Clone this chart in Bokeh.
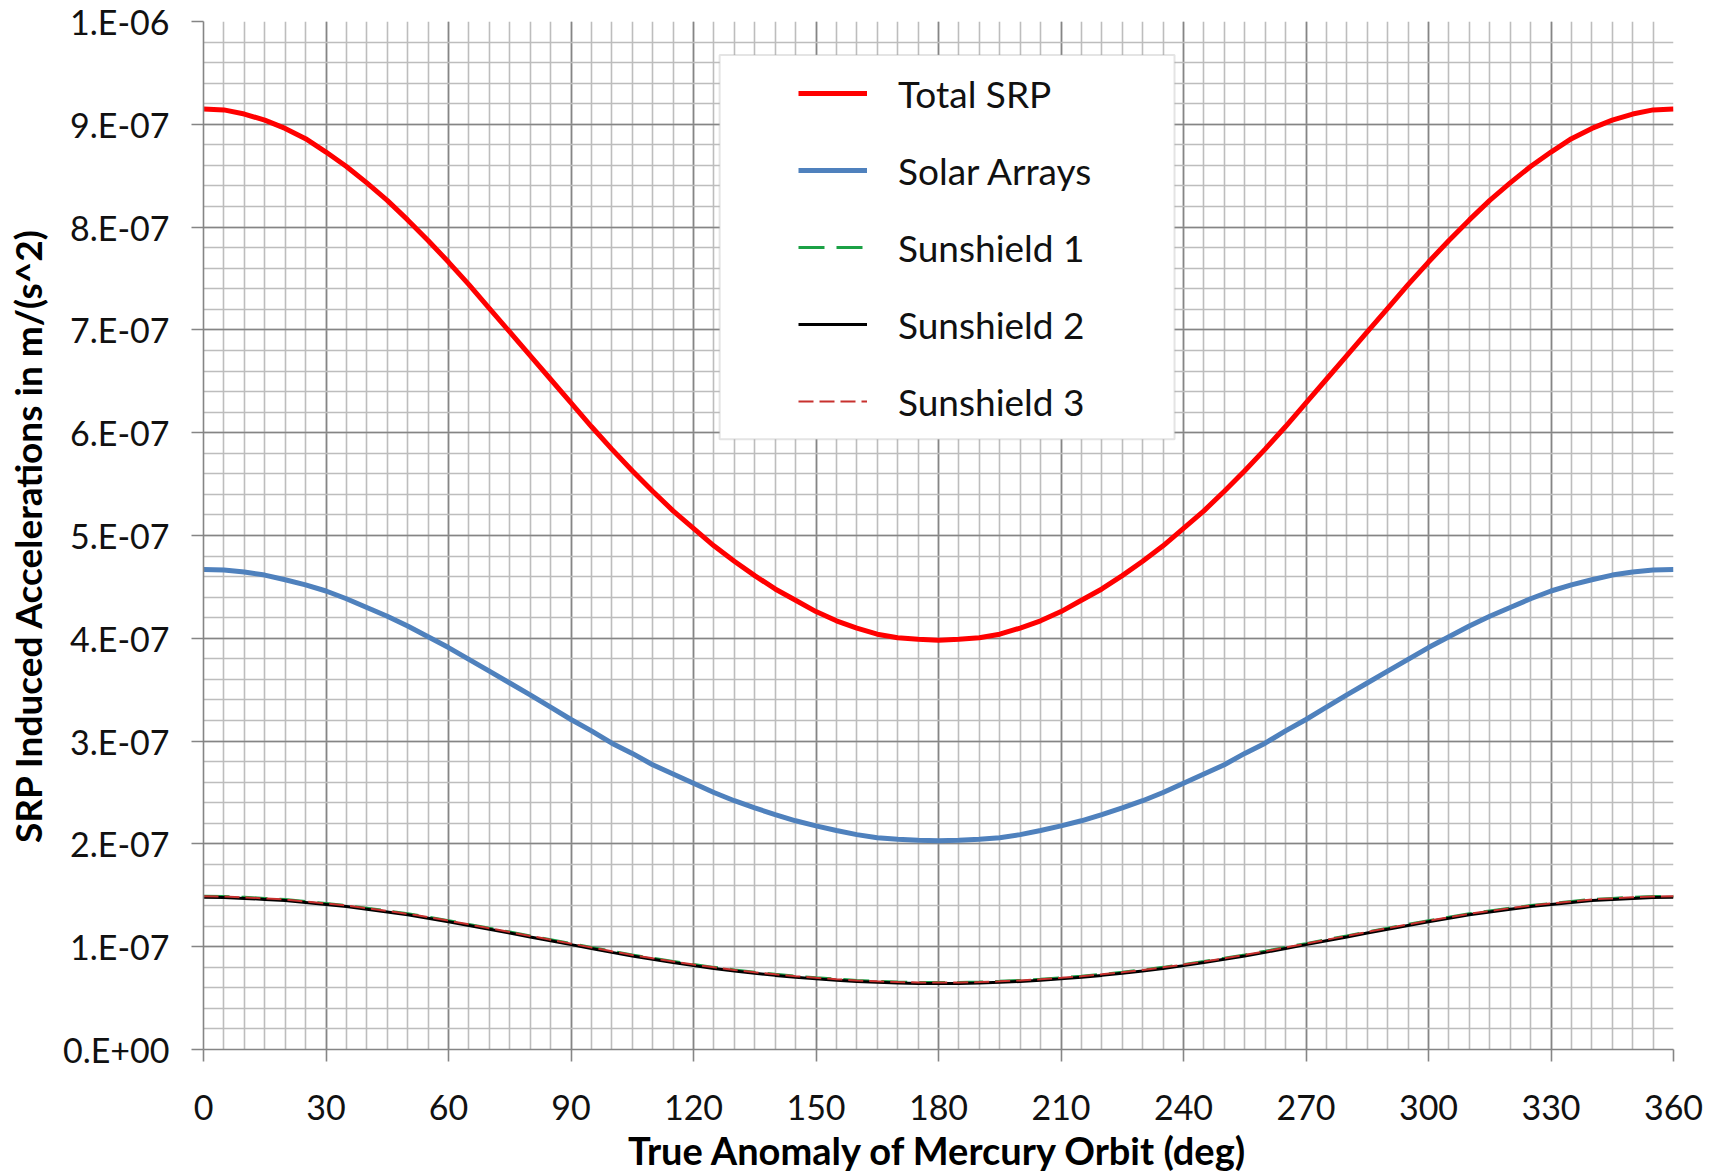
from bokeh.plotting import figure
from bokeh.models import FixedTicker, Legend, LegendItem, BoxAnnotation, Range1d
from bokeh.embed import file_html
from bokeh.resources import INLINE

# ---------------- data ----------------
anomaly_deg = list(range(0, 361, 5))

total_srp = [9.15e-7, 9.14e-7, 9.10e-7, 9.04e-7, 8.96e-7, 8.86e-7, 8.73e-7, 8.59e-7, 8.43e-7, 8.26e-7,
             8.07e-7, 7.87e-7, 7.66e-7, 7.44e-7, 7.21e-7, 6.98e-7, 6.75e-7, 6.52e-7, 6.29e-7, 6.06e-7,
             5.84e-7, 5.63e-7, 5.43e-7, 5.24e-7, 5.07e-7, 4.90e-7, 4.75e-7, 4.61e-7, 4.48e-7, 4.37e-7,
             4.26e-7, 4.17e-7, 4.10e-7, 4.04e-7, 4.005e-7, 3.99e-7, 3.98e-7,
             3.99e-7, 4.005e-7, 4.04e-7, 4.10e-7, 4.17e-7, 4.26e-7, 4.37e-7, 4.48e-7, 4.61e-7, 4.75e-7,
             4.90e-7, 5.07e-7, 5.24e-7, 5.43e-7, 5.63e-7, 5.84e-7, 6.06e-7, 6.29e-7, 6.52e-7, 6.75e-7,
             6.98e-7, 7.21e-7, 7.44e-7, 7.66e-7, 7.87e-7, 8.07e-7, 8.26e-7, 8.43e-7, 8.59e-7, 8.73e-7,
             8.86e-7, 8.96e-7, 9.04e-7, 9.10e-7, 9.14e-7, 9.15e-7]

solar_arrays = [4.67e-7, 4.665e-7, 4.645e-7, 4.615e-7, 4.57e-7, 4.52e-7, 4.46e-7, 4.385e-7, 4.30e-7, 4.215e-7,
                4.12e-7, 4.015e-7, 3.91e-7, 3.795e-7, 3.68e-7, 3.565e-7, 3.45e-7, 3.33e-7, 3.21e-7, 3.10e-7,
                2.98e-7, 2.88e-7, 2.77e-7, 2.68e-7, 2.59e-7, 2.50e-7, 2.42e-7, 2.35e-7, 2.285e-7, 2.225e-7,
                2.175e-7, 2.13e-7, 2.09e-7, 2.06e-7, 2.045e-7, 2.035e-7, 2.03e-7,
                2.035e-7, 2.045e-7, 2.06e-7, 2.09e-7, 2.13e-7, 2.175e-7, 2.225e-7, 2.285e-7, 2.35e-7, 2.42e-7,
                2.50e-7, 2.59e-7, 2.68e-7, 2.77e-7, 2.88e-7, 2.98e-7, 3.10e-7, 3.21e-7, 3.33e-7, 3.45e-7,
                3.565e-7, 3.68e-7, 3.795e-7, 3.91e-7, 4.015e-7, 4.12e-7, 4.215e-7, 4.30e-7, 4.385e-7, 4.46e-7,
                4.52e-7, 4.57e-7, 4.615e-7, 4.645e-7, 4.665e-7, 4.67e-7]

sunshield_1 = [1.49e-7, 1.488e-7, 1.48e-7, 1.47e-7, 1.46e-7, 1.44e-7, 1.42e-7, 1.40e-7, 1.375e-7, 1.348e-7,
               1.32e-7, 1.287e-7, 1.253e-7, 1.217e-7, 1.18e-7, 1.143e-7, 1.105e-7, 1.068e-7, 1.03e-7, 0.993e-7,
               0.955e-7, 0.92e-7, 0.887e-7, 0.856e-7, 0.826e-7, 0.799e-7, 0.774e-7, 0.751e-7, 0.731e-7, 0.713e-7,
               0.697e-7, 0.684e-7, 0.672e-7, 0.663e-7, 0.656e-7, 0.652e-7, 0.651e-7,
               0.652e-7, 0.656e-7, 0.663e-7, 0.672e-7, 0.684e-7, 0.697e-7, 0.713e-7, 0.731e-7, 0.751e-7, 0.774e-7,
               0.799e-7, 0.826e-7, 0.856e-7, 0.887e-7, 0.92e-7, 0.955e-7, 0.993e-7, 1.03e-7, 1.068e-7, 1.105e-7,
               1.143e-7, 1.18e-7, 1.217e-7, 1.253e-7, 1.287e-7, 1.32e-7, 1.348e-7, 1.375e-7, 1.40e-7, 1.42e-7,
               1.44e-7, 1.46e-7, 1.47e-7, 1.48e-7, 1.488e-7, 1.49e-7]

sunshield_2 = [1.48e-7, 1.478e-7, 1.47e-7, 1.46e-7, 1.45e-7, 1.43e-7, 1.41e-7, 1.39e-7, 1.365e-7, 1.338e-7,
               1.31e-7, 1.277e-7, 1.243e-7, 1.207e-7, 1.17e-7, 1.133e-7, 1.095e-7, 1.058e-7, 1.02e-7, 0.983e-7,
               0.945e-7, 0.91e-7, 0.877e-7, 0.846e-7, 0.816e-7, 0.789e-7, 0.764e-7, 0.741e-7, 0.721e-7, 0.703e-7,
               0.687e-7, 0.674e-7, 0.662e-7, 0.653e-7, 0.646e-7, 0.642e-7, 0.641e-7,
               0.642e-7, 0.646e-7, 0.653e-7, 0.662e-7, 0.674e-7, 0.687e-7, 0.703e-7, 0.721e-7, 0.741e-7, 0.764e-7,
               0.789e-7, 0.816e-7, 0.846e-7, 0.877e-7, 0.91e-7, 0.945e-7, 0.983e-7, 1.02e-7, 1.058e-7, 1.095e-7,
               1.133e-7, 1.17e-7, 1.207e-7, 1.243e-7, 1.277e-7, 1.31e-7, 1.338e-7, 1.365e-7, 1.39e-7, 1.41e-7,
               1.43e-7, 1.45e-7, 1.46e-7, 1.47e-7, 1.478e-7, 1.48e-7]

sunshield_3 = [1.49e-7, 1.488e-7, 1.48e-7, 1.47e-7, 1.46e-7, 1.44e-7, 1.42e-7, 1.40e-7, 1.375e-7, 1.348e-7,
               1.32e-7, 1.287e-7, 1.253e-7, 1.217e-7, 1.18e-7, 1.143e-7, 1.105e-7, 1.068e-7, 1.03e-7, 0.993e-7,
               0.955e-7, 0.92e-7, 0.887e-7, 0.856e-7, 0.826e-7, 0.799e-7, 0.774e-7, 0.751e-7, 0.731e-7, 0.713e-7,
               0.697e-7, 0.684e-7, 0.672e-7, 0.663e-7, 0.656e-7, 0.652e-7, 0.651e-7,
               0.652e-7, 0.656e-7, 0.663e-7, 0.672e-7, 0.684e-7, 0.697e-7, 0.713e-7, 0.731e-7, 0.751e-7, 0.774e-7,
               0.799e-7, 0.826e-7, 0.856e-7, 0.887e-7, 0.92e-7, 0.955e-7, 0.993e-7, 1.03e-7, 1.068e-7, 1.105e-7,
               1.143e-7, 1.18e-7, 1.217e-7, 1.253e-7, 1.287e-7, 1.32e-7, 1.348e-7, 1.375e-7, 1.40e-7, 1.42e-7,
               1.44e-7, 1.46e-7, 1.47e-7, 1.48e-7, 1.488e-7, 1.49e-7]

series_labels = ["Total SRP", "Solar Arrays", "Sunshield 1", "Sunshield 2", "Sunshield 3"]

x_ticks = [0, 30, 60, 90, 120, 150, 180, 210, 240, 270, 300, 330, 360]
y_ticks = [0, 1e-7, 2e-7, 3e-7, 4e-7, 5e-7, 6e-7, 7e-7, 8e-7, 9e-7, 1e-6]
y_tick_labels = ["0.E+00", "1.E-07", "2.E-07", "3.E-07", "4.E-07", "5.E-07",
                 "6.E-07", "7.E-07", "8.E-07", "9.E-07", "1.E-06"]

x_title = "True Anomaly of Mercury Orbit (deg)"
y_title = "SRP Induced Accelerations in m/(s^2)"

# ---------------- figure ----------------
FONT = "Lato"
p = figure(width=1717, height=1175, output_backend="svg", toolbar_location=None,
           x_range=Range1d(0, 360), y_range=Range1d(0, 1e-6),
           min_border_left=203, min_border_right=44, min_border_top=21, min_border_bottom=126)
p.outline_line_color = None
p.background_fill_color = "white"
p.border_fill_color = "white"

x_minor = list(range(0, 361, 5))
y_minor = [i * 2e-8 for i in range(51)]
p.xaxis.ticker = FixedTicker(ticks=x_ticks, minor_ticks=x_minor)
p.yaxis.ticker = FixedTicker(ticks=y_ticks, minor_ticks=y_minor)
p.xgrid.ticker = p.xaxis.ticker
p.ygrid.ticker = p.yaxis.ticker
p.yaxis.major_label_overrides = dict(zip(y_ticks, y_tick_labels))

for g in (p.xgrid, p.ygrid):
    g.grid_line_color = "#858585"
    g.grid_line_width = 1.6
    g.minor_grid_line_color = "#bdbdbd"
    g.minor_grid_line_width = 1.6
    g.level = "underlay"

for ax in (p.xaxis, p.yaxis):
    ax.axis_line_color = "#858585"
    ax.axis_line_width = 1.6
    ax.major_tick_line_color = "#858585"
    ax.major_tick_line_width = 1.6
    ax.major_tick_out = 12
    ax.major_tick_in = 0
    ax.minor_tick_out = 0
    ax.minor_tick_in = 0
    ax.major_label_text_font = FONT
    ax.major_label_text_font_size = "34px"
    ax.major_label_text_color = "#111111"
    ax.axis_label_text_font = FONT
    ax.axis_label_text_font_style = "bold"
    ax.axis_label_text_color = "#000000"

p.xaxis.axis_label = x_title
p.yaxis.axis_label = y_title
p.xaxis.axis_label_text_font_size = "38px"
p.yaxis.axis_label_text_font_size = "37px"
p.xaxis.major_label_standoff = 33
p.xaxis.axis_label_standoff = 4
p.yaxis.major_label_standoff = 22
p.yaxis.axis_label_standoff = 10

# ---------------- series ----------------
r_total = p.line(anomaly_deg, total_srp, line_color="#FF0000", line_width=5)
r_solar = p.line(anomaly_deg, solar_arrays, line_color="#4F81BD", line_width=5)
r_ss1 = p.line(anomaly_deg, sunshield_1, line_color="#1BA145", line_width=3, line_dash="26 12")
r_ss2 = p.line(anomaly_deg, sunshield_2, line_color="#000000", line_width=3)
r_ss3 = p.line(anomaly_deg, sunshield_3, line_color="#C8312E", line_width=2, line_dash="15 6")

# legend frame
box = BoxAnnotation(left=126.4, right=237.8, bottom=5.937e-7, top=9.674e-7,
                    fill_color="white", fill_alpha=1.0, line_color="#a6a6a6", line_width=2)
p.add_layout(box)

items = [LegendItem(label=lab, renderers=[r])
         for lab, r in zip(series_labels, [r_total, r_solar, r_ss1, r_ss2, r_ss3])]
legend = Legend(items=items, location=(585, 615), glyph_width=69, glyph_height=46,
                label_height=46, label_standoff=31, spacing=31, padding=10, margin=0,
                background_fill_alpha=0, border_line_alpha=0,
                label_text_font=FONT, label_text_font_size="37px", label_text_color="#111111")
p.add_layout(legend)

open("out.html", "w").write(file_html(p, INLINE))
